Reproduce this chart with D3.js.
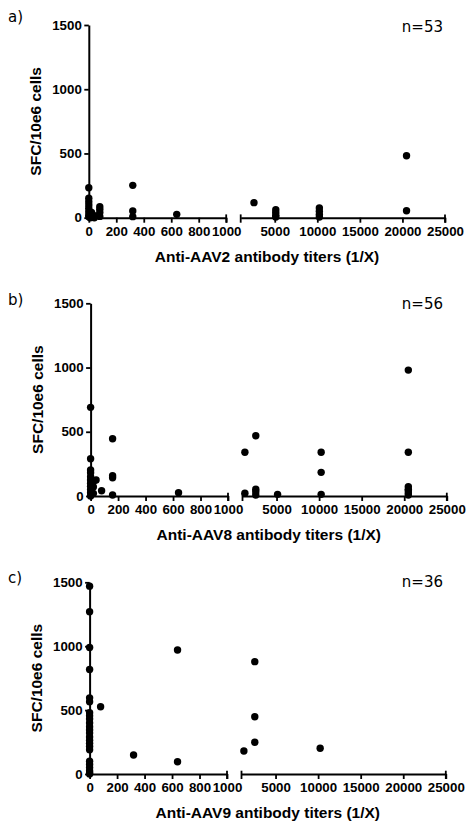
<!DOCTYPE html>
<html><head><meta charset="utf-8">
<script src="https://cdn.jsdelivr.net/npm/d3@7"></script>
<style>body{margin:0;background:#fff}svg{display:block}</style>
</head><body>
<svg id="chart" width="467" height="825"></svg>
<script>
// ---- data ----
const yTicks = [0, 500, 1000, 1500];
const xTicksLow = [0, 200, 400, 600, 800, 1000];
const xTicksHigh = [5000, 10000, 15000, 20000, 25000];
const panelLabels = ["a)", "b)", "c)"];
const nLabels = ["n=53", "n=56", "n=36"];
const xTitles = ["Anti-AAV2 antibody titers (1/X)", "Anti-AAV8 antibody titers (1/X)", "Anti-AAV9 antibody titers (1/X)"];
const yTitle = "SFC/10e6 cells";

const aav2Titer = [0,0,0,0,0,0,0,0, 10,10, 20,20, 40,40, 80,80,80,80, 320,320,320, 640, 2560, 5120,5120,5120,5120, 10240,10240,10240,10240, 20480,20480];
const aav2Sfc   = [233,151,125,99,73,47,21,8, 20,0, 40,5, 15,0, 85,65,40,10, 252,52,8, 26, 117, 62,40,20,5, 75,50,25,5, 482,54];

const aav8Titer = [0,0,0,0,0,0,0,0,0,0,0, 20,20,20, 40, 80, 160,160,160,160, 640, 1280,1280, 2560,2560,2560,2560, 5120, 10240,10240,10240, 20480,20480,20480,20480,20480,20480,20480];
const aav8Sfc   = [690,290,202,181,150,125,100,75,50,25,0, 110,70,20, 125, 41, 446,158,142,8, 26, 340,21, 469,52,34,8, 13, 340,184,13, 980,340,73,52,41,23,8];

const aav9Titer = [0,0,0,0,0,0,0,0,0,0,0,0,0,0,0,0,0,0,0,0,0,0,0,0, 80, 320, 640,640, 1280, 2560,2560,2560, 10240];
const aav9Sfc   = [1470,1269,990,818,596,565,480,455,430,400,370,345,320,290,265,240,215,190,100,75,50,25,10,0, 526, 149, 970,96, 180, 879,448,248, 201];

const panels = [
  {titer: aav2Titer, sfc: aav2Sfc},
  {titer: aav8Titer, sfc: aav8Sfc},
  {titer: aav9Titer, sfc: aav9Sfc}
];

// ---- layout ----
const layout = [
  {top: 25,    bottom: 217.7, dx: 0,   labelY: 21.5, nY: 31.7},
  {top: 303.3, bottom: 496,   dx: 1.8, labelY: 305,  nY: 309},
  {top: 582.3, bottom: 774,   dx: 0.8, labelY: 583,  nY: 586.5}
];
const X0 = 88.8, X1 = 226.2, X2 = 240.7, X3 = 445;

const svg = d3.select("#chart");
const tickFont = "'Liberation Sans', Arial, sans-serif";
const fmt = d3.format("d");

function styleTickText(sel) {
  sel.attr("font-family", tickFont).attr("font-weight", "bold").attr("font-size", 12)
     .attr("fill", "#000")
     .attr("lengthAdjust", "spacingAndGlyphs")
     .attr("textLength", function(){ return this.textContent.length * 7.4; });
}

panels.forEach((p, i) => {
  const L = layout[i];
  const g = svg.append("g").attr("transform", `translate(${L.dx},0)`);
  const y = d3.scaleLinear().domain([0, 1500]).range([L.bottom, L.top]);
  const xLow = d3.scaleLinear().domain([0, 1000]).range([X0, X1]);
  const xHigh = d3.scaleLinear().domain([1000, 25000]).range([X2, X3]);
  const xPos = t => t <= 1000 ? xLow(t) : xHigh(t);

  // y axis
  const ya = g.append("g").attr("transform", `translate(${X0},0)`)
    .call(d3.axisLeft(y).tickValues(yTicks).tickFormat(fmt).tickSize(4.5).tickSizeOuter(0).tickPadding(2.5));
  ya.select(".domain").attr("stroke", "#000").attr("stroke-width", 2);
  ya.selectAll(".tick line").attr("stroke", "#000").attr("stroke-width", 1.8);
  ya.selectAll(".tick text").call(styleTickText).attr("dy", "0.34em");

  // x axis low segment
  const xa1 = g.append("g").attr("transform", `translate(0,${L.bottom})`)
    .call(d3.axisBottom(xLow).tickValues(xTicksLow).tickFormat(fmt).tickSize(5).tickSizeOuter(0).tickPadding(4.8));
  // x axis high segment
  const xa2 = g.append("g").attr("transform", `translate(0,${L.bottom})`)
    .call(d3.axisBottom(xHigh).tickValues(xTicksHigh).tickFormat(fmt).tickSize(5).tickSizeOuter(0).tickPadding(4.8));
  [xa1, xa2].forEach(a => {
    a.select(".domain").attr("stroke", "#000").attr("stroke-width", 2);
    a.selectAll(".tick line").attr("stroke", "#000").attr("stroke-width", 1.8);
    a.selectAll(".tick text").call(styleTickText);
  });
  // break end caps
  [xLow(1000), xHigh(1000), xHigh(25000)].forEach(cx => {
    g.append("line").attr("x1", cx).attr("x2", cx)
      .attr("y1", L.bottom - 3.3).attr("y2", L.bottom + 5)
      .attr("stroke", "#000").attr("stroke-width", 1.8);
  });

  // points
  g.append("g").selectAll("circle")
    .data(p.titer.map((t, k) => ({t, v: p.sfc[k]})))
    .join("circle")
    .attr("cx", d => xPos(d.t))
    .attr("cy", d => y(d.v))
    .attr("r", 3.7)
    .attr("fill", "#000");

  // axis titles
  g.append("text")
    .attr("x", 267).attr("y", L.bottom + 44.3)
    .attr("text-anchor", "middle")
    .attr("font-family", tickFont).attr("font-weight", "bold").attr("font-size", 15.5)
    .text(xTitles[i]);
  g.append("text")
    .attr("transform", `translate(41,${(L.top + L.bottom) / 2}) rotate(-90)`)
    .attr("text-anchor", "middle")
    .attr("font-family", tickFont).attr("font-weight", "bold").attr("font-size", 15.5)
    .text(yTitle);

  // panel label & n
  svg.append("text").attr("x", 8).attr("y", L.labelY)
    .attr("font-family", "'DejaVu Sans', sans-serif").attr("font-size", 15)
    .text(panelLabels[i]);
  svg.append("text").attr("x", 443).attr("y", L.nY).attr("text-anchor", "end")
    .attr("font-family", "'DejaVu Sans', sans-serif").attr("font-size", 15)
    .text(nLabels[i]);
});
</script>
</body></html>
